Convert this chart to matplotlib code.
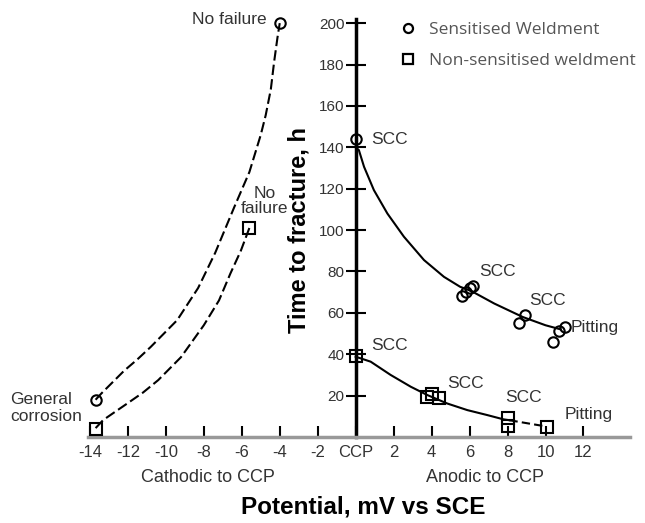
import matplotlib.pyplot as plt
from matplotlib.lines import Line2D

# measured points, sensitised weldment (circles)
sens_x = [-13.7, -4.0, 0.0, 5.6, 5.8, 6.0, 6.2, 8.6, 8.9, 10.4, 10.7, 11.0]
sens_y = [18, 200, 144, 68, 70, 72, 73, 55, 59, 46, 51, 53]
# measured points, non-sensitised weldment (squares)
nons_x = [-13.7, -5.6, 0.0, 3.77, 4.03, 4.39, 8.0, 8.0, 10.1]
nons_y = [4, 101, 39, 19.5, 21, 18.7, 9.2, 5.3, 4.7]

# trend lines
sens_cath_x = [-13.7, -13.4, -12.8, -12.2, -11.5, -10.8, -10.1, -9.4, -8.3, -7.4,
               -6.4, -5.6, -5.0, -4.74, -4.47, -4.3, -4.12, -4.0]
sens_cath_y = [18, 21, 26.5, 32, 37.5, 43.5, 50, 56.5, 72, 89,
               111, 128, 146, 155.5, 168, 181, 193, 200]
nons_cath_x = [-13.7, -13.3, -12.7, -12.0, -11.2, -10.4, -9.2, -8.0, -7.2, -6.6, -6.05, -5.6]
nons_cath_y = [4.3, 8.2, 12, 16.4, 21.5, 27.5, 38.6, 54, 66, 79, 90, 101]
sens_anod_x = [0.0, 0.17, 0.44, 0.96, 1.67, 2.54, 3.6, 4.65, 5.5, 6.1, 7.3, 8.8, 10.0, 10.8]
sens_anod_y = [140, 138.6, 130.6, 119.3, 108, 96.8, 85.5, 77.4, 72.6, 70.5, 64.5, 58, 54, 52]
nons_anod_x = [0.0, 0.79, 1.84, 2.9, 3.77, 4.82, 5.88, 6.93, 7.8, 8.1]
nons_anod_y = [38.8, 36.4, 30, 24.3, 20.3, 16.2, 13, 10.6, 8.5, 8.1]
nons_tail_x = [8.1, 9.9]
nons_tail_y = [8.1, 5.3]

xticks = list(range(-14, 13, 2))
xticklabels = ["CCP" if t == 0 else str(t) for t in xticks]
yticks = list(range(20, 201, 20))

notes = [  # (text, x, y, ha)
    ("No failure", -4.7, 202, "right"),
    ("No\nfailure", -4.8, 114, "center"),
    ("SCC", 0.8, 144, "left"),
    ("SCC", 6.5, 80, "left"),
    ("SCC", 9.15, 66, "left"),
    ("Pitting", 11.3, 53, "left"),
    ("SCC", 0.8, 44, "left"),
    ("SCC", 4.8, 26, "left"),
    ("SCC", 7.85, 19, "left"),
    ("Pitting", 11.0, 11, "left"),
]

plt.rcParams['font.family'] = ['Liberation Sans', 'DejaVu Sans']
fig = plt.figure(figsize=(6.45, 5.23), dpi=100)
ax = fig.add_axes([88 / 645, 86 / 523, 542 / 645, 418 / 523])

dash = (0, (5, 2))
ax.plot(sens_cath_x, sens_cath_y, color="black", lw=1.5, ls=dash)
ax.plot(nons_cath_x, nons_cath_y, color="black", lw=1.5, ls=dash)
ax.plot(sens_anod_x, sens_anod_y, color="black", lw=1.5)
ax.plot(nons_anod_x, nons_anod_y, color="black", lw=1.5)
ax.plot(nons_tail_x, nons_tail_y, color="black", lw=1.5, ls=(0, (4, 2)))

ax.plot(sens_x, sens_y, ls="none", marker="o", ms=7.5, mfc="none", mec="black",
        mew=1.5, clip_on=False, zorder=5)
ax.plot(nons_x, nons_y, ls="none", marker="s", ms=8, mfc="none", mec="black",
        mew=1.5, clip_on=False, zorder=5)

for txt, x, y, ha in notes:
    ax.text(x, y, txt, ha=ha, va="center", fontsize=12.5, color="#333333", linespacing=1.0)
fig.text(10 / 645, 1 - 408 / 523, "General\ncorrosion", ha="left", va="center",
         fontsize=12.5, color="#333333", linespacing=1.1)

ax.set_xlim(-14.1, 14.45)
ax.set_ylim(0, 202)
ax.spines["left"].set_position(("data", 0))
ax.spines["left"].set_linewidth(2.5)
ax.spines["bottom"].set_linewidth(2.5)
ax.spines["bottom"].set_color("#999999")
ax.spines["top"].set_visible(False)
ax.spines["right"].set_visible(False)

ax.set_xticks(xticks)
ax.set_xticklabels(xticklabels)
ax.set_yticks(yticks)
ax.tick_params(axis="x", direction="in", length=8, width=1.5, labelsize=12,
               labelcolor="#333333", pad=6)
ax.tick_params(axis="y", direction="inout", length=14, width=1.5, labelsize=11,
               labelcolor="#333333", pad=1)

ax.set_ylabel("Time to fracture, h", fontsize=17, fontweight="bold")
ax.yaxis.set_label_coords(0.41, 0.495)
fig.text(208 / 645, 1 - 477 / 523, "Cathodic to CCP", ha="center", va="center",
         fontsize=13, color="#333333")
fig.text(485 / 645, 1 - 477 / 523, "Anodic to CCP", ha="center", va="center",
         fontsize=13, color="#333333")
fig.text(363 / 645, 1 - 507 / 523, "Potential, mV vs SCE", ha="center", va="center",
         fontsize=17.5, fontweight="bold")

handles = [
    Line2D([], [], ls="none", marker="o", ms=6.5, mfc="none", mec="black", mew=1.6),
    Line2D([], [], ls="none", marker="s", ms=6.5, mfc="none", mec="black", mew=1.6),
]
leg = ax.legend(handles, ["Sensitised Weldment", "Non-sensitised weldment"],
                loc="upper left", bbox_to_anchor=(391 / 645, 1 - 13 / 523),
                bbox_transform=fig.transFigure, frameon=False, borderpad=0,
                handlelength=1.0, handletextpad=0.7, labelspacing=0.85,
                prop={"family": "Open Sans", "size": 12.5})
for t in leg.get_texts():
    t.set_color("#555555")

fig.savefig("out.png", dpi=100)
